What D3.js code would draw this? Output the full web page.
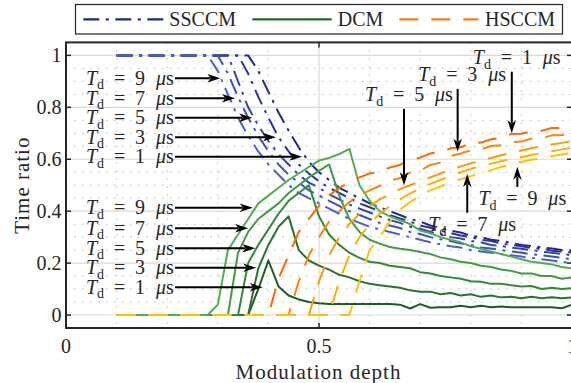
<!DOCTYPE html>
<html>
<head>
<meta charset="utf-8">
<script src="https://cdn.jsdelivr.net/npm/d3@7"></script>
<style>
  html, body { margin: 0; padding: 0; background: #fff; }
  svg { display: block; }
  text { font-family: "Liberation Serif", "DejaVu Serif", "Noto Serif", "Times New Roman", serif; fill: #262626; }
</style>
</head>
<body>
<svg id="chart" width="571" height="383"></svg>
<script>
// Modulation depth grid shared by every curve
const depth = [0.10,0.12,0.14,0.16,0.18,0.20,0.22,0.24,0.26,0.28,0.30,0.32,0.34,0.36,0.38,0.40,0.42,0.44,0.46,0.48,
               0.50,0.52,0.54,0.56,0.58,0.60,0.62,0.64,0.66,0.68,0.70,0.72,0.74,0.76,0.78,0.80,0.82,0.84,0.86,0.88,
               0.90,0.92,0.94,0.96,0.98,1.00];

// SSCCM time ratio, one array per dead time
const ssccmTd1 = [1,1,1,1,1,1,1,1,1,1,1,1,1,1,0.94,0.86,0.78,0.71,0.645,0.59,0.55,0.52,0.49,0.47,0.45,0.43,0.415,0.40,0.385,0.37,0.36,0.345,0.335,0.325,0.318,0.305,0.30,0.29,0.285,0.278,0.27,0.266,0.26,0.256,0.25,0.248];
const ssccmTd3 = [1,1,1,1,1,1,1,1,1,1,1,1,1,0.93,0.84,0.76,0.685,0.63,0.58,0.545,0.515,0.49,0.47,0.45,0.43,0.415,0.40,0.385,0.372,0.36,0.345,0.336,0.325,0.316,0.306,0.30,0.29,0.285,0.276,0.27,0.265,0.258,0.255,0.248,0.245,0.24];
const ssccmTd5 = [1,1,1,1,1,1,1,1,1,1,1,1,0.90,0.80,0.73,0.67,0.62,0.58,0.54,0.51,0.49,0.465,0.445,0.425,0.41,0.395,0.38,0.366,0.355,0.34,0.332,0.32,0.312,0.30,0.295,0.285,0.28,0.27,0.266,0.26,0.255,0.25,0.244,0.24,0.235,0.23];
const ssccmTd7 = [1,1,1,1,1,1,1,1,1,1,1,0.93,0.84,0.76,0.69,0.63,0.58,0.54,0.51,0.48,0.46,0.44,0.42,0.40,0.385,0.37,0.355,0.345,0.335,0.32,0.312,0.30,0.292,0.285,0.275,0.27,0.26,0.256,0.25,0.245,0.24,0.234,0.23,0.225,0.22,0.215];
const ssccmTd9 = [1,1,1,1,1,1,1,1,1,1,0.94,0.85,0.76,0.69,0.63,0.58,0.54,0.50,0.47,0.45,0.43,0.41,0.39,0.37,0.355,0.34,0.33,0.32,0.31,0.30,0.29,0.28,0.272,0.265,0.26,0.25,0.245,0.24,0.235,0.23,0.225,0.22,0.215,0.21,0.205,0.20];

// DCM time ratio
const dcmTd1 = [0,0,0,0,0,0,0,0,0,0,0,0,0,0,0.10,0.21,0.11,0.075,0.06,0.05,0.045,0.042,0.042,0.042,0.042,0.042,0.042,0.042,0.04,0.025,0.042,0.028,0.03,0.03,0.036,0.03,0.036,0.03,0.033,0.03,0.03,0.03,0.03,0.03,0.026,0.04];
const dcmTd3 = [0,0,0,0,0,0,0,0,0,0,0,0,0,0,0.18,0.27,0.34,0.38,0.25,0.21,0.19,0.175,0.155,0.145,0.13,0.12,0.115,0.11,0.105,0.095,0.09,0.09,0.08,0.085,0.075,0.08,0.07,0.075,0.068,0.07,0.065,0.07,0.065,0.068,0.065,0.068];
const dcmTd5 = [0,0,0,0,0,0,0,0,0,0,0,0,0,0.20,0.27,0.33,0.39,0.44,0.47,0.50,0.38,0.31,0.27,0.24,0.22,0.205,0.20,0.19,0.185,0.18,0.165,0.16,0.15,0.145,0.14,0.13,0.128,0.12,0.12,0.115,0.11,0.112,0.10,0.105,0.10,0.103];
const dcmTd7 = [0,0,0,0,0,0,0,0,0,0,0,0,0.24,0.32,0.37,0.40,0.43,0.47,0.50,0.53,0.555,0.58,0.46,0.37,0.32,0.29,0.275,0.262,0.255,0.25,0.243,0.235,0.222,0.215,0.205,0.20,0.19,0.185,0.175,0.17,0.16,0.16,0.15,0.15,0.14,0.145];
const dcmTd9 = [0,0,0,0,0,0,0,0,0,0,0.04,0.25,0.31,0.37,0.43,0.46,0.49,0.52,0.545,0.57,0.595,0.605,0.62,0.64,0.50,0.44,0.40,0.38,0.365,0.35,0.325,0.315,0.30,0.29,0.28,0.265,0.255,0.245,0.235,0.225,0.215,0.205,0.20,0.195,0.185,0.18];

// HSCCM time ratio
const hsccmTd1 = [0,0,0,0,0,0,0,0,0,0,0,0,0,0,0,0,0.14,0.23,0.32,0.37,0.42,0.46,0.49,0.51,0.53,0.545,0.552,0.568,0.578,0.598,0.606,0.622,0.628,0.642,0.646,0.662,0.664,0.677,0.683,0.697,0.698,0.707,0.71,0.72,0.72,0.73];
const hsccmTd3 = [0,0,0,0,0,0,0,0,0,0,0,0,0,0,0,0,0,0,0.13,0.23,0.30,0.36,0.40,0.435,0.46,0.48,0.497,0.518,0.527,0.548,0.556,0.578,0.587,0.612,0.622,0.634,0.638,0.651,0.654,0.666,0.668,0.68,0.681,0.692,0.693,0.70];
const hsccmTd5 = [0,0,0,0,0,0,0,0,0,0,0,0,0,0,0,0,0,0,0,0,0.13,0.23,0.30,0.35,0.39,0.42,0.445,0.465,0.485,0.50,0.515,0.53,0.545,0.56,0.572,0.584,0.595,0.605,0.615,0.625,0.634,0.642,0.65,0.657,0.663,0.67];
const hsccmTd7 = [0,0,0,0,0,0,0,0,0,0,0,0,0,0,0,0,0,0,0,0,0,0,0.13,0.23,0.30,0.35,0.39,0.42,0.445,0.468,0.488,0.505,0.52,0.535,0.55,0.563,0.573,0.583,0.592,0.60,0.608,0.616,0.624,0.631,0.638,0.645];
const hsccmTd9 = [0,0,0,0,0,0,0,0,0,0,0,0,0,0,0,0,0,0,0,0,0,0,0,0,0.13,0.25,0.30,0.36,0.405,0.435,0.46,0.48,0.495,0.51,0.523,0.535,0.546,0.558,0.57,0.58,0.59,0.598,0.605,0.612,0.618,0.625];

// Axis ticks
const xTicks = [0, 0.5, 1];
const xTickLabels = ["0", "0.5", "1"];
const yTicks = [0, 0.2, 0.4, 0.6, 0.8, 1];
const yTickLabels = ["0", "0.2", "0.4", "0.6", "0.8", "1"];

// Legend entries
const schemeNames = ["SSCCM", "DCM", "HSCCM"];

// Dead-time call-outs: tip of the arrow and where its label sits (data units)
const ssccmNotes = [
  { td: 9, tx: 0.305, ty: 0.912 }, { td: 7, tx: 0.334, ty: 0.835 }, { td: 5, tx: 0.368, ty: 0.760 },
  { td: 3, tx: 0.415, ty: 0.685 }, { td: 1, tx: 0.467, ty: 0.610 }
];
const dcmNotes = [
  { td: 9, tx: 0.369, ty: 0.413 }, { td: 7, tx: 0.360, ty: 0.334 }, { td: 5, tx: 0.374, ty: 0.257 },
  { td: 3, tx: 0.376, ty: 0.182 }, { td: 1, tx: 0.389, ty: 0.107 }
];
const hsccmNotes = [
  { td: 1, tx: 0.881, ty: 0.700, fromY: 0.937, lx: 0.804, ly: 0.990 },
  { td: 3, tx: 0.774, ty: 0.629, fromY: 0.871, lx: 0.696, ly: 0.925 },
  { td: 5, tx: 0.668, ty: 0.500, fromY: 0.794, lx: 0.591, ly: 0.848 },
  { td: 9, tx: 0.892, ty: 0.571, fromY: 0.493, lx: 0.815, ly: 0.447 },
  { td: 7, tx: 0.793, ty: 0.543, fromY: 0.394, lx: 0.716, ly: 0.347 }
];

// ---------------------------------------------------------------------------
const W = 571, H = 383;
const svg = d3.select("#chart");
const x = d3.scaleLinear().domain([0, 1]).range([66, 572]);
const y = d3.scaleLinear().domain([-0.05, 1.05]).range([328, 42.4]);

const series = [
  { name: "SSCCM", dash: "16,6.5,3,6.5",
    colors: ["#1f2b85", "#28389a", "#3345ad", "#3e52bd", "#4b60c9"],
    data: [ssccmTd1, ssccmTd3, ssccmTd5, ssccmTd7, ssccmTd9] },
  { name: "DCM", dash: null,
    colors: ["#1b5e20", "#26752b", "#318a36", "#3d9e42", "#4caf50"],
    data: [dcmTd1, dcmTd3, dcmTd5, dcmTd7, dcmTd9] },
  { name: "HSCCM", dash: "19,13",
    colors: ["#ff6a00", "#ff8400", "#ff9b00", "#ffaf00", "#ffc300"],
    data: [hsccmTd1, hsccmTd3, hsccmTd5, hsccmTd7, hsccmTd9] }
];
const legendColors = ["#1f2b85", "#1e6a24", "#ff7a10"];

svg.append("rect").attr("width", W).attr("height", H).attr("fill", "#fff");

const defs = svg.append("defs");
defs.append("clipPath").attr("id", "plotclip")
  .append("rect").attr("x", x(0)).attr("y", y(1.05)).attr("width", x(1) - x(0)).attr("height", y(-0.05) - y(1.05));

// grid: dotted minor lines, then solid major lines
const grid = svg.append("g");
const minorX = [0.1, 0.2, 0.3, 0.4, 0.6, 0.7, 0.8, 0.9];
const minorY = d3.range(1, 21).filter(k => k % 4 !== 0).map(k => k * 0.05);
grid.selectAll("line.mx").data(minorX).join("line")
  .attr("x1", d => x(d)).attr("x2", d => x(d)).attr("y1", y(1.05)).attr("y2", y(-0.05))
  .attr("stroke", "#b8b8b8").attr("stroke-width", 1).attr("stroke-dasharray", "1.5,6.5");
grid.selectAll("line.my").data(minorY).join("line")
  .attr("y1", d => y(d)).attr("y2", d => y(d)).attr("x1", x(0)).attr("x2", x(1))
  .attr("stroke", "#b8b8b8").attr("stroke-width", 1).attr("stroke-dasharray", "1.5,6.5");
grid.selectAll("line.Mx").data([0.5]).join("line")
  .attr("x1", d => x(d)).attr("x2", d => x(d)).attr("y1", y(1.05)).attr("y2", y(-0.05))
  .attr("stroke", "#dadada").attr("stroke-width", 1.2);
grid.selectAll("line.My").data(yTicks).join("line")
  .attr("y1", d => y(d)).attr("y2", d => y(d)).attr("x1", x(0)).attr("x2", x(1))
  .attr("stroke", "#dadada").attr("stroke-width", 1.2);

// curves
const line = d3.line().x((d, i) => x(depth[i])).y(d => y(d));
const curves = svg.append("g").attr("clip-path", "url(#plotclip)");
series.forEach(s => {
  s.data.forEach((vals, k) => {
    curves.append("path")
      .attr("d", line(vals))
      .attr("fill", "none")
      .attr("stroke", s.colors[k])
      .attr("stroke-width", 2)
      .attr("stroke-linejoin", "round")
      .attr("stroke-dasharray", s.dash);
  });
});

// frame and inward ticks
const frame = svg.append("g").attr("stroke", "#262626");
frame.append("rect").attr("x", x(0)).attr("y", y(1.05)).attr("width", x(1) - x(0)).attr("height", y(-0.05) - y(1.05))
  .attr("fill", "none").attr("stroke-width", 2);
yTicks.forEach(v => {
  frame.append("line").attr("x1", x(0)).attr("x2", x(0) + 5).attr("y1", y(v)).attr("y2", y(v)).attr("stroke-width", 1.5);
  frame.append("line").attr("x1", x(1)).attr("x2", x(1) - 5).attr("y1", y(v)).attr("y2", y(v)).attr("stroke-width", 1.5);
});
xTicks.forEach(v => {
  frame.append("line").attr("x1", x(v)).attr("x2", x(v)).attr("y1", y(-0.05)).attr("y2", y(-0.05) - 5).attr("stroke-width", 1.5);
  frame.append("line").attr("x1", x(v)).attr("x2", x(v)).attr("y1", y(1.05)).attr("y2", y(1.05) + 5).attr("stroke-width", 1.5);
});

// tick labels
const fs = 20;
svg.append("g").selectAll("text").data(yTicks).join("text")
  .attr("x", x(0) - 4.5).attr("y", d => y(d)).attr("dy", "0.33em")
  .attr("text-anchor", "end").attr("font-size", fs).text((d, i) => yTickLabels[i]);
svg.append("g").selectAll("text").data(xTicks).join("text")
  .attr("x", d => x(d)).attr("y", 352.5)
  .attr("text-anchor", "middle").attr("font-size", fs).text((d, i) => xTickLabels[i]);

// axis titles
svg.append("text").attr("x", (x(0) + x(1)) / 2 - 0.5).attr("y", 378.5).attr("text-anchor", "middle")
  .attr("font-size", 21).attr("letter-spacing", 1).text("Modulation depth");
svg.append("text").attr("transform", `translate(29,${(y(1.05) + y(-0.05)) / 2}) rotate(-90)`)
  .attr("text-anchor", "middle").attr("font-size", 21).attr("letter-spacing", 1).text("Time ratio");

// arrows with a filled notched head
function arrow(g, x1, y1, x2, y2) {
  const a = Math.atan2(y2 - y1, x2 - x1);
  g.append("line").attr("x1", x1).attr("y1", y1)
    .attr("x2", x2 - 10 * Math.cos(a)).attr("y2", y2 - 10 * Math.sin(a))
    .attr("stroke", "#000").attr("stroke-width", 2);
  g.append("path").attr("d", "M0,0 L-13,-4.2 L-9.5,0 L-13,4.2 Z")
    .attr("transform", `translate(${x2},${y2}) rotate(${a * 180 / Math.PI})`).attr("fill", "#000");
}

// "T_d = n µs" label, left edge at lx, vertical centre at cy, total width about 88 px
function tdLabel(g, lx, cy, val) {
  const t = g.append("text").attr("x", lx).attr("y", cy + 6.5).attr("font-size", 20);
  t.append("tspan").attr("font-style", "italic").text("T");
  t.append("tspan").attr("font-size", 14).attr("dy", 4.5).text("d");
  const eq = t.append("tspan").attr("dy", -4.5).attr("dx", 6).text("=");
  const num = t.append("tspan").attr("dx", 6).text(String(val));
  const mu = t.append("tspan").attr("dx", 7).attr("font-style", "italic").text("μ");
  t.append("tspan").text("s");
  const w = t.node().getBBox().width;
  const extra = Math.max(-3, Math.min(6, (88 - w) / 3));
  eq.attr("dx", 6 + extra);
  num.attr("dx", 6 + extra);
  mu.attr("dx", 7 + extra);
}

const notes = svg.append("g");
const leftLabelX = x(0.0395), leftArrowX = x(0.2155);
[...ssccmNotes, ...dcmNotes].forEach(n => {
  tdLabel(notes, leftLabelX, y(n.ty), n.td);
  arrow(notes, leftArrowX, y(n.ty), x(n.tx), y(n.ty));
});
hsccmNotes.forEach(n => {
  tdLabel(notes, x(n.lx), y(n.ly), n.td);
  arrow(notes, x(n.tx), y(n.fromY), x(n.tx), y(n.ty));
});

// legend
const lg = svg.append("g");
lg.append("rect").attr("x", 75.5).attr("y", 4.5).attr("width", 487).attr("height", 29.5)
  .attr("fill", "#fff").attr("stroke", "#262626").attr("stroke-width", 1.2);
const legendLines = [[83.3, 163.3, 169.3], [252.3, 331.7, 337.7], [399.3, 478.3, 485]];
series.forEach((s, i) => {
  const [a, b, tx] = legendLines[i];
  lg.append("line").attr("x1", a).attr("x2", b).attr("y1", 19.3).attr("y2", 19.3)
    .attr("stroke", legendColors[i]).attr("stroke-width", 2.2).attr("stroke-dasharray", s.dash);
  lg.append("text").attr("x", tx).attr("y", 25.5).attr("font-size", 20).text(schemeNames[i]);
});
</script>
</body>
</html>
